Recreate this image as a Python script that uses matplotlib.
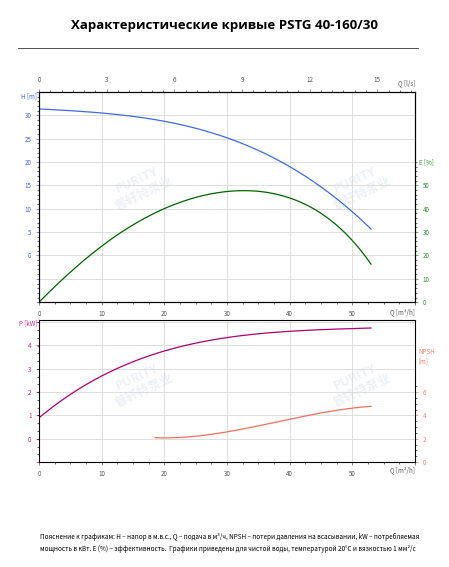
import numpy as np
import matplotlib.pyplot as plt

# values
q_h = [0, 10, 20, 30, 35, 40, 45, 50, 53]
h_m = [31.3, 30.6, 28.7, 25.0, 22.5, 19.0, 14.8, 9.5, 5.5]
q_e = [0, 5, 10, 15, 20, 25, 30, 32, 35, 40, 45, 50, 53]
eff = [0, 13, 24, 33, 40, 44.5, 47.8, 48, 47.5, 44, 38, 27, 16]
q_p = [0, 5, 10, 15, 20, 25, 30, 35, 40, 45, 50, 53]
p_kw = [0.9, 1.9, 2.7, 3.3, 3.75, 4.1, 4.35, 4.5, 4.6, 4.68, 4.72, 4.75]
q_n = [18.5, 25, 30, 35, 40, 45, 50, 53]
npsh = [2.1, 2.2, 2.6, 3.1, 3.7, 4.2, 4.6, 4.8]
q_labels = ['0', '10', '20', '30', '40', '50', '']
e_labels = ['0', '10', '20', '30', '40', '50']

tc = '#555555'
fs = 4.5

def smooth(x, y, deg):
    c = np.polyfit(x, y, deg)
    xs = np.linspace(min(x), max(x), 200)
    return xs, np.polyval(c, xs)

def base(ax):
    ax.set_xlim(0, 60)
    ax.set_xticks(range(0, 61, 10))
    ax.set_xticklabels(q_labels)
    ax.set_xticks(np.arange(0, 61, 2.5), minor=True)
    ax.grid(True, color='#dddddd', lw=0.7)
    ax.tick_params(labelsize=fs, colors=tc, length=2, width=0.5)
    ax.tick_params(which='minor', length=1.2, width=0.4)
    for s in ax.spines.values():
        s.set_color('#444444')
        s.set_linewidth(0.7)
    ax.text(1.0, -0.03, 'Q [m³/h]', transform=ax.transAxes, fontsize=fs,
            color=tc, ha='right', va='top')
    for xx in (0.27, 0.85):
        ax.text(xx, 0.55, 'PURITY\n普轩特泵业', transform=ax.transAxes, fontsize=9,
                color='#edf1f7', rotation=25, ha='center', va='center',
                family=['Noto Sans CJK SC', 'DejaVu Sans'], fontweight='bold', zorder=0)

fig = plt.figure(figsize=(4.49, 5.67), dpi=100)
plt.rcParams['font.family'] = ['Noto Sans CJK SC', 'DejaVu Sans']
fig.text(0.5, 0.955, 'Характеристические кривые PSTG 40-160/30', ha='center',
         va='center', fontsize=9.5, fontweight='bold', family='Open Sans')
fig.add_artist(plt.Line2D([0.04, 0.93], [0.915, 0.915], color='#333333', lw=0.6))

# upper: head + efficiency
ax1 = fig.add_axes([0.087, 0.467, 0.837, 0.371])
base(ax1)
ax1.set_ylim(-10, 35)
ax1.set_yticks(range(-10, 36, 5))
ax1.set_yticklabels(['', ''] + [str(v) for v in range(0, 31, 5)] + [''])
ax1.set_yticks(np.arange(-10, 36, 1), minor=True)
ax1.tick_params(axis='y', colors='#4466dd')
ax1.text(-0.005, 1.0, 'H [m]', transform=ax1.transAxes, fontsize=fs, color='#4466dd',
         ha='right', va='top')
xs, ys = smooth(q_h, h_m, 3)
ax1.plot(xs, ys, color='#4169e1', lw=0.9)
ax1e = ax1.twinx()
ax1e.set_ylim(0, 90)
ax1e.set_yticks(range(0, 51, 10))
ax1e.set_yticklabels(e_labels)
ax1e.set_yticks(range(0, 61, 2), minor=True)
ax1e.tick_params(labelsize=fs, colors='#2e8b2e', length=2, width=0.5)
ax1e.tick_params(which='minor', length=1.2, width=0.4)
ax1e.text(1.01, 0.667, 'E [%]', transform=ax1e.transAxes, fontsize=fs, color='#2e8b2e', va='center')
xs, ys = smooth(q_e, eff, 5)
ax1e.plot(xs, ys, color='#006400', lw=0.9)
top = ax1.twiny()
top.set_xlim(0, 60 / 3.6)
top.set_xticks(range(0, 16, 3))
top.set_xticks(np.arange(0, 16.7, 0.5), minor=True)
top.tick_params(labelsize=fs, colors=tc, length=2, width=0.5)
top.tick_params(which='minor', length=1.2, width=0.4)
top.text(1.0, 1.03, 'Q [l/s]', transform=top.transAxes, fontsize=fs, color=tc, ha='right')

# lower: power + NPSH
ax2 = fig.add_axes([0.087, 0.185, 0.837, 0.251])
base(ax2)
ax2.set_ylim(-1, 5.1)
ax2.set_yticks(range(-1, 6))
ax2.set_yticklabels(['', '0', '1', '2', '3', '4', ''])
ax2.set_yticks(np.arange(-1, 5.1, 0.333), minor=True)
ax2.tick_params(axis='y', colors='#cc2288')
ax2.text(-0.005, 1.0, 'P [kW]', transform=ax2.transAxes, fontsize=fs, color='#cc2288',
         ha='right', va='top')
xs, ys = smooth(q_p, p_kw, 4)
ax2.plot(xs, ys, color='#b0006e', lw=0.9)
ax2n = ax2.twinx()
ax2n.set_ylim(0, 12.2)
ax2n.set_yticks(range(0, 7, 2))
ax2n.set_yticks(np.arange(0, 7, 0.5), minor=True)
ax2n.tick_params(labelsize=fs, colors='#f08070', length=2, width=0.5)
ax2n.tick_params(which='minor', length=1.2, width=0.4)
ax2n.text(1.01, 0.74, 'NPSH\n[m]', transform=ax2n.transAxes, fontsize=fs, color='#f08070', va='center')
xs, ys = smooth(q_n, npsh, 3)
ax2n.plot(xs, ys, color='#f07060', lw=0.9)

fig.text(0.09, 0.053, 'Пояснение к графикам: H – напор в м.в.с., Q – подача в м³/ч, NPSH – потери давления на всасывании, kW – потребляемая',
         fontsize=4.6, ha='left', va='center')
fig.text(0.09, 0.032, 'мощность в кВт. E (%) – эффективность.  Графики приведены для чистой воды, температурой 20°C и вязкостью 1 мм²/с',
         fontsize=4.6, ha='left', va='center')

fig.savefig('out.png', dpi=100)
